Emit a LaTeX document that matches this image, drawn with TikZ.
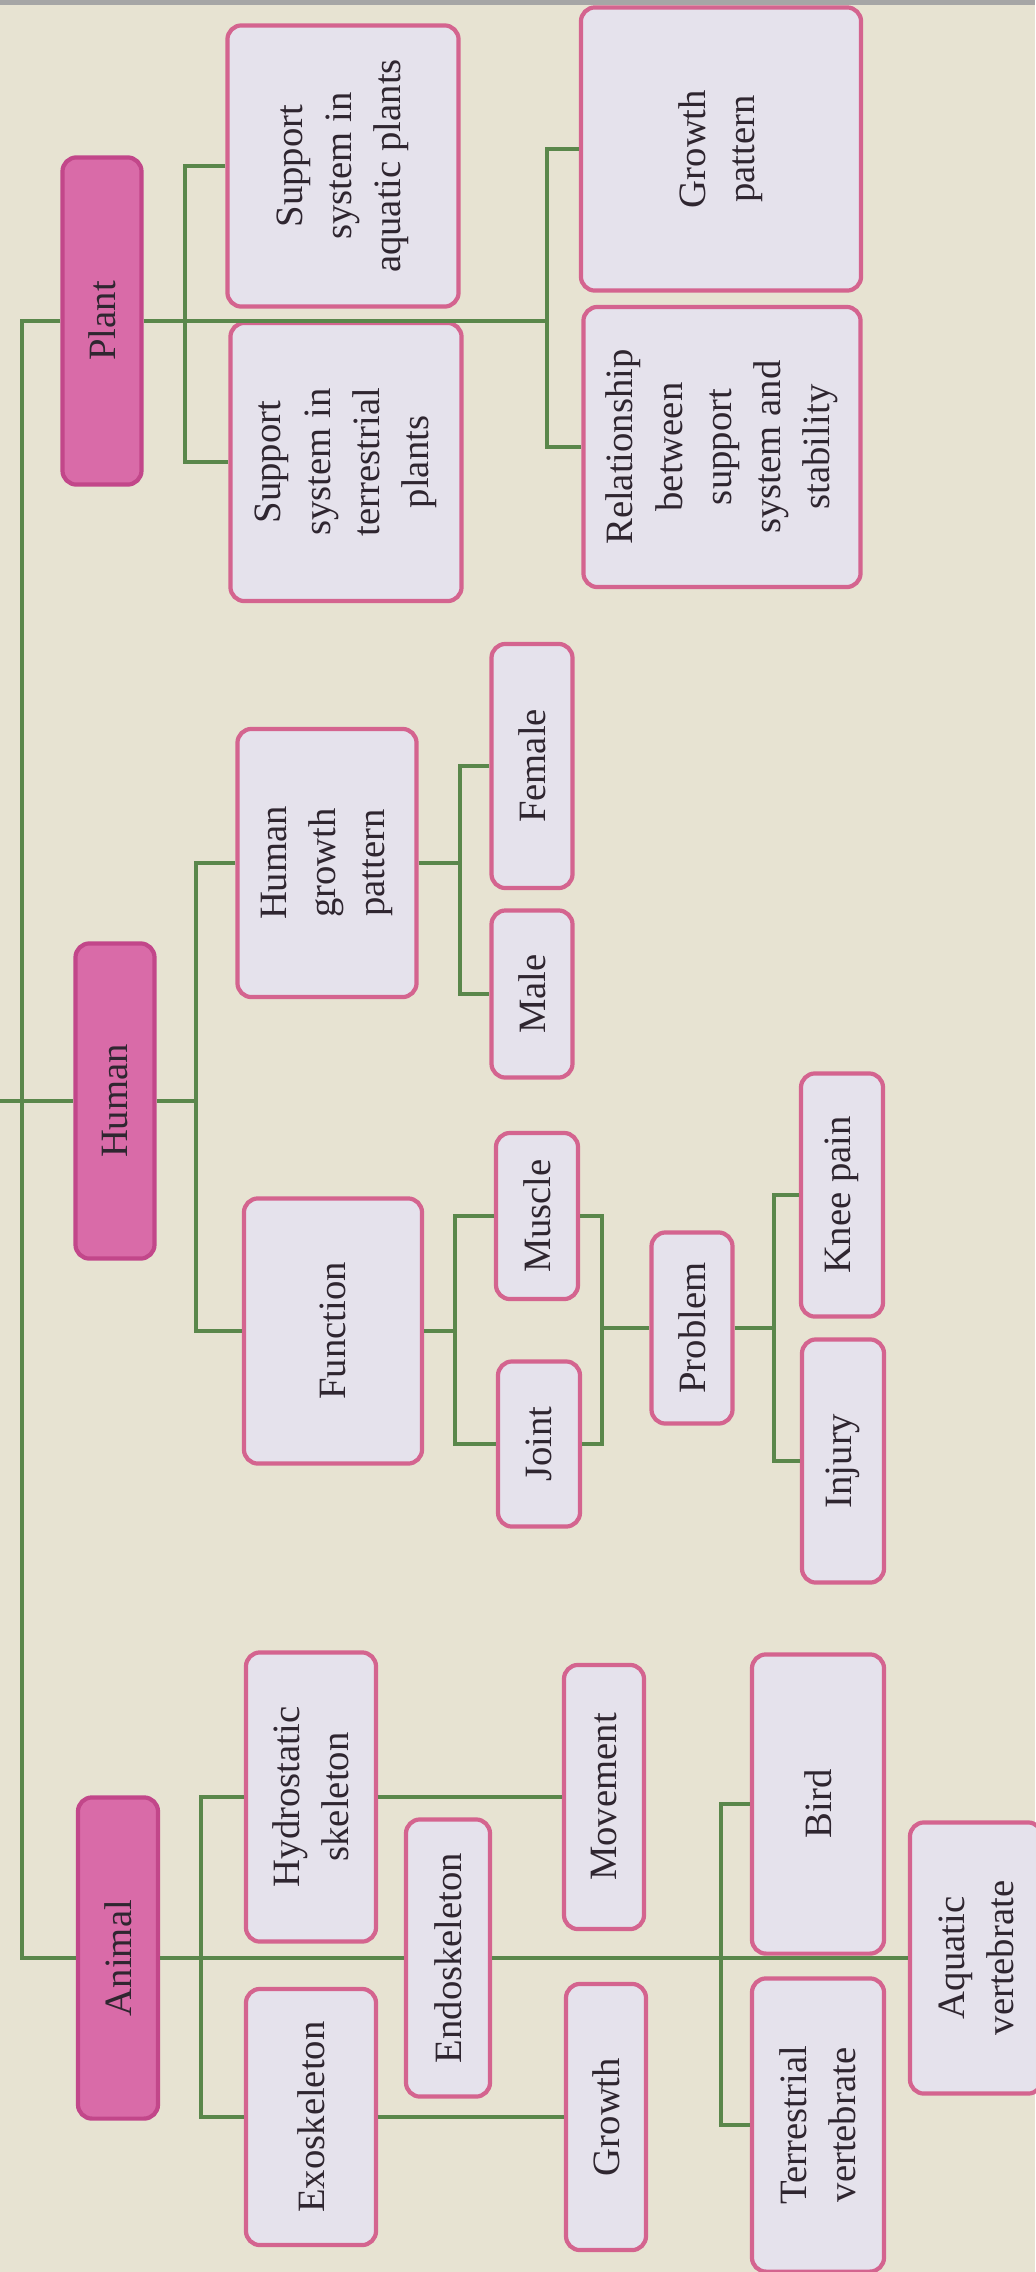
\documentclass[tikz,border=0pt]{standalone}
\usepackage{fontspec}
\setmainfont{Liberation Serif}
\definecolor{paper}{HTML}{E7E3D2}
\definecolor{stem}{HTML}{5A874B}
\definecolor{rootfill}{HTML}{D96BA8}
\definecolor{rootline}{HTML}{C2478A}
\definecolor{leaffill}{HTML}{E5E2EC}
\definecolor{leafline}{HTML}{D4648F}
\definecolor{ink}{HTML}{2F2630}
\begin{document}
\begin{tikzpicture}[x=0.01cm, y=-0.01cm, font=\fontsize{11}{14}\selectfont,
  link/.style={draw=stem, line width=0.9pt},
  rootbox/.style={rotate=90, draw=rootline, fill=rootfill, line width=1.2pt, rounded corners=4pt, text=ink, inner sep=2pt},
  leafbox/.style={rotate=90, draw=leafline, fill=leaffill, line width=1.2pt, rounded corners=4pt, text=ink, align=center, inner sep=2pt}]
  % paper
  \useasboundingbox (0,0) rectangle (1035,2272);
  \fill[paper] (0,0) rectangle (1035,2272);
  \fill[gray!70] (0,0) rectangle (1035,5);

  % plant side
  \node[rootbox, minimum width=3.27cm, minimum height=0.79cm] (plant) at (102,321) {Plant};
  \node[leafbox, minimum width=2.81cm, minimum height=2.31cm] (saq) at (343,166) {Support\\system in\\aquatic plants};
  \node[leafbox, minimum width=2.78cm, minimum height=2.31cm] (ster) at (346,462) {Support\\system in\\terrestrial\\plants};
  \node[leafbox, minimum width=2.83cm, minimum height=2.80cm] (gpat) at (721,149) {Growth\\pattern};
  \node[leafbox, minimum width=2.80cm, minimum height=2.77cm] (rel) at (722,447) {Relationship\\between\\support\\system and\\stability};

  % human side
  \node[rootbox, minimum width=3.15cm, minimum height=0.79cm] (hum) at (115,1101) {Human};
  \node[leafbox, minimum width=2.68cm, minimum height=1.79cm] (hgp) at (327,863) {Human\\growth\\pattern};
  \node[leafbox, minimum width=2.44cm, minimum height=0.81cm] (fem) at (532,766) {Female};
  \node[leafbox, minimum width=1.67cm, minimum height=0.81cm] (male) at (532,994) {Male};
  \node[leafbox, minimum width=2.65cm, minimum height=1.78cm] (fun) at (333,1331) {Function};
  \node[leafbox, minimum width=1.66cm, minimum height=0.82cm] (mus) at (537,1216) {Muscle};
  \node[leafbox, minimum width=1.65cm, minimum height=0.82cm] (joint) at (539,1444) {Joint};
  \node[leafbox, minimum width=1.91cm, minimum height=0.81cm] (prob) at (692,1328) {Problem};
  \node[leafbox, minimum width=2.43cm, minimum height=0.82cm] (knee) at (842,1195) {Knee pain};
  \node[leafbox, minimum width=2.43cm, minimum height=0.82cm] (inj) at (843,1461) {Injury};

  % animal side
  \node[rootbox, minimum width=3.21cm, minimum height=0.80cm] (anim) at (118,1958) {Animal};
  \node[leafbox, minimum width=2.89cm, minimum height=1.30cm] (hyd) at (311,1797) {Hydrostatic\\skeleton};
  \node[leafbox, minimum width=2.56cm, minimum height=1.30cm] (exo) at (311,2117) {Exoskeleton};
  \node[leafbox, minimum width=2.77cm, minimum height=0.84cm] (endo) at (448,1958) {Endoskeleton};
  \node[leafbox, minimum width=2.64cm, minimum height=0.80cm] (mov) at (604,1797) {Movement};
  \node[leafbox, minimum width=2.66cm, minimum height=0.80cm] (grow) at (606,2117) {Growth};
  \node[leafbox, minimum width=2.99cm, minimum height=1.32cm] (bird) at (818,1804) {Bird};
  \node[leafbox, minimum width=2.93cm, minimum height=1.32cm] (terr) at (818,2125) {Terrestrial\\vertebrate};
  \node[leafbox, minimum width=2.71cm, minimum height=1.32cm] (aq) at (976,1958) {Aquatic\\vertebrate};

  % trunk
  \coordinate (root) at (0,1101);
  \coordinate (ttop) at (22,321);
  \coordinate (tbot) at (22,1958);
  \draw[link] (plant.north) -- (ttop) -- (tbot) -- (anim.north);
  \draw[link] (root) -- (hum.north);

  % plant links
  \coordinate (pj1) at (185,321);
  \coordinate (pj2) at (547,321);
  \draw[link] (plant.south) -- (pj2);
  \draw[link] (saq.north) -| (pj1) |- (ster.north);
  \draw[link] (gpat.north) -| (pj2) |- (rel.north);

  % human links
  \coordinate (hj1) at (196,1101);
  \coordinate (hj2) at (460,863);
  \coordinate (fj1) at (455,1331);
  \coordinate (fj2) at (602,1328);
  \coordinate (pj3) at (774,1328);
  \draw[link] (hum.south) -- (hj1);
  \draw[link] (hgp.north) -| (hj1) |- (fun.north);
  \draw[link] (hgp.south) -- (hj2);
  \draw[link] (fem.north) -| (hj2) |- (male.north);
  \draw[link] (fun.south) -- (fj1);
  \draw[link] (mus.north) -| (fj1) |- (joint.north);
  \draw[link] (mus.south) -| (fj2) |- (joint.south);
  \draw[link] (fj2) -- (prob.north);
  \draw[link] (prob.south) -- (pj3);
  \draw[link] (knee.north) -| (pj3) |- (inj.north);

  % animal links
  \coordinate (aj1) at (201,1958);
  \coordinate (aj2) at (721,1958);
  \draw[link] (anim.south) -- (endo.north);
  \draw[link] (hyd.north) -| (aj1) |- (exo.north);
  \draw[link] (hyd.south) -- (mov.north);
  \draw[link] (exo.south) -- (grow.north);
  \draw[link] (endo.south) -- (aq.north);
  \draw[link] (bird.north) -| (aj2) |- (terr.north);
\end{tikzpicture}
\end{document}
